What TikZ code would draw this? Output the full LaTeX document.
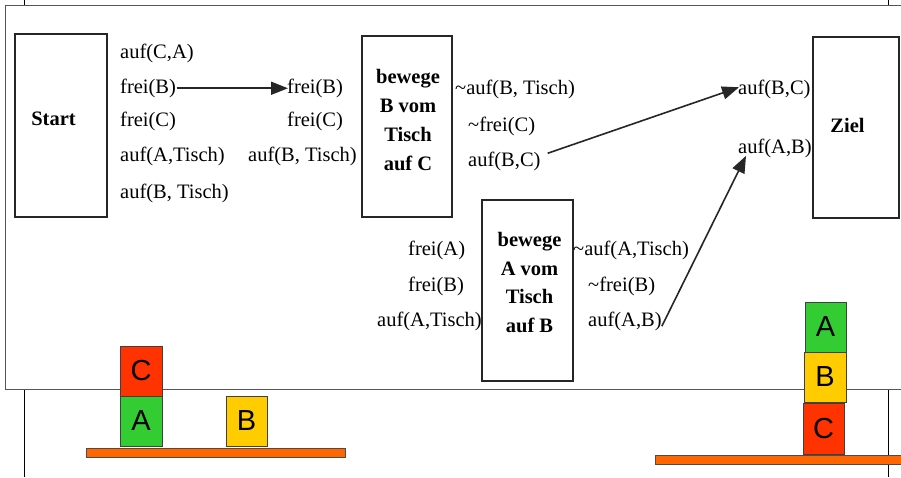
\documentclass[tikz,border=0pt]{standalone}
\usepackage{fontspec}
\setmainfont{Liberation Serif}
\newfontfamily\blockfont{Liberation Sans}
\usetikzlibrary{arrows.meta,calc}
\definecolor{redC}{HTML}{FF3300}
\definecolor{greenA}{HTML}{33CC33}
\definecolor{yellowB}{HTML}{FFCC00}
\definecolor{tableor}{HTML}{FF6600}
\definecolor{scanframe}{HTML}{555555}
\tikzset{
  lbl/.style={anchor=mid west, inner sep=0pt, font=\fontsize{20.5}{28.7}\selectfont},
  boxtxt/.style={inner sep=0pt, align=center, font=\bfseries\fontsize{20.5}{28.7}\selectfont},
  opbox/.style={draw=black!85, line width=1.6pt, inner sep=0pt},
  arr/.style={-{Triangle[length=17pt,width=13pt]}, line width=1.6pt, black!85},
  blockst/.style={draw=black!75, line width=0.8pt, inner sep=0pt, minimum width=42pt, minimum height=50pt, font=\blockfont\fontsize{29}{29}\selectfont},
  tablest/.style={draw=black!70, line width=0.6pt, fill=tableor, inner sep=0pt, minimum height=9pt},
  outerline/.style={line width=0.9pt, black}
}
\begin{document}
\begin{tikzpicture}[x=1pt,y=-1pt]
\useasboundingbox (0,0) rectangle (901,477);
% outer frame lines
\draw[outerline] (24,0) -- (24,477);
\draw[outerline] (888,0) -- (888,477);
% scanned region
\fill[white] (5,5) rectangle (905,389);
\draw[scanframe, line width=1pt] (905,5) -- (5,5) -- (5,389) -- (905,389);

% boxes
\node[opbox, minimum width=92pt, minimum height=183pt] (start) at (61,125.5) {};
\node[boxtxt] (starttxt) at (53.5,119) {Start};
\node[opbox, minimum width=90pt, minimum height=181pt] (opB) at (407,126.5) {};
\node[boxtxt] (opBtxt) at (408,120) {bewege\\B vom\\Tisch\\auf C};
\node[opbox, minimum width=91pt, minimum height=181pt] (opA) at (527.5,290.5) {};
\node[boxtxt] (opAtxt) at (529.5,282.5) {bewege\\A vom\\Tisch\\auf B};
\node[opbox, minimum width=86pt, minimum height=181pt] (ziel) at (856,127.5) {};
\node[boxtxt] (zieltxt) at (847.5,125) {Ziel};

% start state
\node[lbl] (s1) at (120,56) {auf(C,A)};
\node[lbl] (s2) at (120,91) {frei(B)};
\node[lbl] (s3) at (120,124) {frei(C)};
\node[lbl] (s4) at (120,159) {auf(A,Tisch)};
\node[lbl] (s5) at (120,196) {auf(B, Tisch)};
% preconditions B move
\node[lbl] (m1) at (287,91) {frei(B)};
\node[lbl] (m2) at (287,124) {frei(C)};
\node[lbl] (m3) at (248,159) {auf(B, Tisch)};
% effects B move
\node[lbl] (b1) at (455,92.5) {\textasciitilde auf(B, Tisch)};
\node[lbl] (b2) at (468,129) {\textasciitilde frei(C)};
\node[lbl] (b3) at (468,164) {auf(B,C)};
% goal
\node[lbl] (z1) at (738,92) {auf(B,C)};
\node[lbl] (z2) at (738,151) {auf(A,B)};
% preconditions A move
\node[lbl] (a1) at (408,253.5) {frei(A)};
\node[lbl] (a2) at (408,289) {frei(B)};
\node[lbl] (a3) at (377,324) {auf(A,Tisch)};
% effects A move
\node[lbl] (r1) at (573,253.5) {\textasciitilde auf(A,Tisch)};
\node[lbl] (r2) at (588,289) {\textasciitilde frei(B)};
\node[lbl] (r3) at (588,324) {auf(A,B)};

% connectors
\draw[arr] ([xshift=0.5pt]s2.east) -- ([xshift=1pt]m1.west);
\draw[arr] ([xshift=7pt,yshift=8pt]b3.east) -- ([xshift=1pt,yshift=2pt]z1.west);
\draw[arr] ([yshift=-5pt]r3.east) -- ([xshift=8pt,yshift=2pt]z2.south west);

% blocks, start situation
\node[blockst, fill=redC] (lC) at (141,371) {C};
\node[blockst, fill=greenA] (lA) at (141,421) {A};
\node[blockst, fill=yellowB, minimum width=41pt] (lB) at (246.5,421) {B};
\node[tablest, minimum width=259pt] (ltable) at (215.5,452.5) {};
% blocks, goal situation
\node[blockst, fill=greenA, minimum width=41pt] (rA) at (825.5,327) {A};
\node[blockst, fill=yellowB] (rB) at (825,377) {B};
\node[blockst, fill=redC, minimum width=41pt, minimum height=51pt] (rC) at (823.5,428.5) {C};
\node[tablest, minimum width=250pt] (rtable) at (780,459.5) {};
\end{tikzpicture}
\end{document}
